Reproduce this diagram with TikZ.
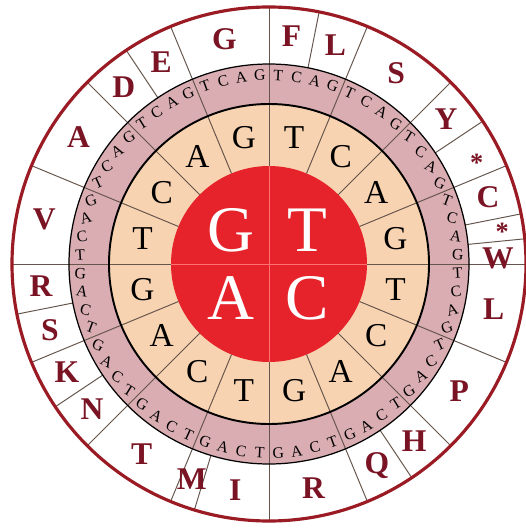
\documentclass[tikz,border=0pt]{standalone}
\usepackage{fontspec}
\setmainfont{Liberation Serif}
\usepackage{xcolor}
\usepackage{tikz}
\usetikzlibrary{calc}

\definecolor{wheelred}{HTML}{E6222A}
\definecolor{peach}{HTML}{F8D3B1}
\definecolor{rose}{HTML}{D9ADB1}
\definecolor{aared}{HTML}{7A1424}
\definecolor{rim}{HTML}{9A1B24}
\definecolor{divider}{HTML}{65554C}

\newcommand{\tcag}[1]{\ifcase#1 T\or C\or A\or G\fi}
\newcommand{\stopmark}{\raisebox{-0.42em}[0.26em][0.12em]{*}}

\begin{document}
\begin{tikzpicture}[x=0.02cm, y=0.02cm,
    every node/.style={inner sep=0pt},
    first/.style={font=\fontsize{37}{37}\selectfont, text=white},
    second/.style={font=\fontsize{19}{19}\selectfont},
    third/.style={font=\fontsize{9}{9}\selectfont},
    amino/.style={font=\fontsize{18}{18}\selectfont\bfseries, text=aared},
    stop/.style={font=\fontsize{15}{15}\selectfont\bfseries, text=aared},
    spoke/.style={draw=divider, line width=0.55pt}]
  \def\rA{98}  % first base
  \def\rB{160} % second base
  \def\rC{200} % third base
  \def\rD{257} % amino acids
  \useasboundingbox (-269,-264) rectangle (257,264);
  \fill[white] (-269,-264) rectangle (257,264);

  % rings
  \fill[rose] (0,0) circle (\rC);
  \fill[peach] (0,0) circle (\rB);
  \fill[wheelred] (0,0) circle (\rA);

  % spokes between bases
  \foreach \a in {0,22.5,...,337.5}
    \draw[spoke] (\a:\rA) -- (\a:\rC);
  % amino acid borders
  \foreach \p in {11.25,22.5,45,56.25,67.5,78.75,84.375,
                  112.5,135,146.25,157.5,
                  196.875,202.5,225,236.25,247.5,258.75,
                  292.5,315,326.25,337.5}
    \draw[spoke] ({90-\p}:\rC) -- ({90-\p}:\rD);
  \foreach \a in {0,90,180,270}
    \draw[spoke] (\a:\rA) -- (\a:\rD);
  \draw[red!55!white, line width=0.5pt] (-\rA,0) -- (\rA,0);
  \draw[red!55!white, line width=0.5pt] (0,-\rA) -- (0,\rA);

  \draw[black, line width=1.1pt] (0,0) circle (\rB);
  \draw[black, line width=0.7pt] (0,0) circle (\rC);
  \draw[rim, line width=1.8pt] (0,0) circle (\rD);

  % first base
  \node[first] (fG) at (-38,34) {G};
  \node[first] (fT) at (38,34) {T};
  \node[first] (fA) at (-38,-34) {A};
  \node[first] (fC) at (38,-34) {C};

  % second base
  \foreach \k in {0,...,15} {
    \pgfmathtruncatemacro\m{mod(\k,4)}
    \node[second] (s\k) at ({90-11.25-22.5*\k}:129) {\tcag{\m}};
  }

  % third base
  \foreach \k in {0,...,63} {
    \pgfmathtruncatemacro\m{mod(\k,4)}
    \pgfmathsetmacro\p{2.8125+5.625*\k}
    \pgfmathsetmacro\rot{-32*sin(2*\p)}
    \node[third, rotate=\rot] (t\k) at ({90-\p}:189) {\tcag{\m}};
  }

  % amino acids
  \foreach \p/\aa [count=\i] in {5.625/F, 16.875/L, 33.75/S, 50.625/Y,
      73.125/C, 88.6/W,
      101.25/L, 123.75/P, 140.625/H, 151.875/Q, 168.75/R,
      188.4375/I, 199.6875/M, 213.75/T, 230.625/N, 241.875/K,
      253.125/S, 264.375/R,
      281.25/V, 303.75/A, 320.625/D, 331.875/E, 348.75/G}
    \node[amino] (aa\i) at ({90-\p}:229) {\aa};
  % stop codons
  \node[stop] (stop1) at ({90-63}:233) {\stopmark};
  \node[stop] (stop2) at ({90-81.2}:236) {\stopmark};
\end{tikzpicture}
\end{document}
